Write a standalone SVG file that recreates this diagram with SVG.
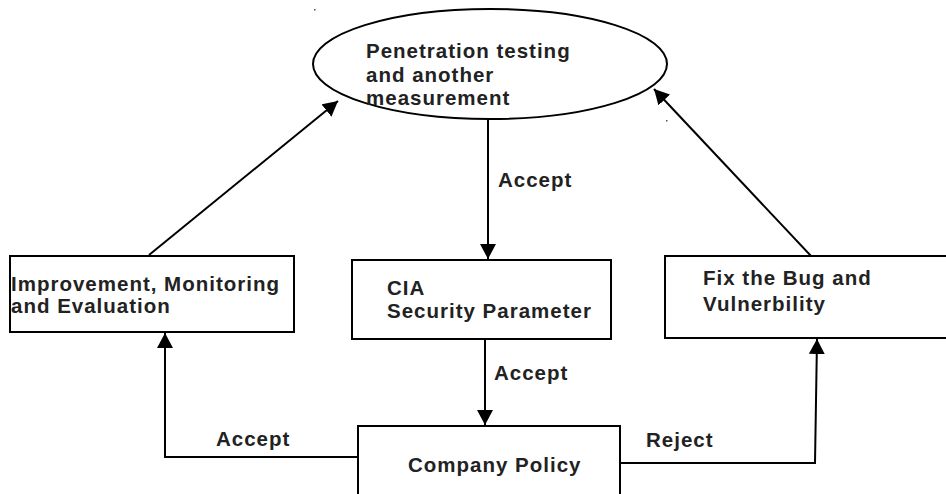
<svg xmlns="http://www.w3.org/2000/svg" width="946" height="494" viewBox="0 0 946 494">
  <style>
    .shape { fill: #ffffff; stroke: #000000; stroke-width: 2; }
    .label { font-family: "Liberation Sans", Arial, sans-serif; font-weight: bold; font-size: 20.5px; letter-spacing: 1px; fill: #222222; }
    .wire { fill: none; stroke: #000000; stroke-width: 2; }
  </style>
  <defs>
    <marker id="arrow" markerUnits="userSpaceOnUse" markerWidth="16" markerHeight="16" viewBox="0 0 16 16" refX="15" refY="8" orient="auto">
      <path d="M0,0 L15,8 L0,16 Z" fill="#000000"/>
    </marker>
  </defs>
  <rect width="946" height="494" fill="#ffffff"/>

  <!-- connectors -->
  <g id="connectors">
    <line class="wire" x1="488" y1="120" x2="488" y2="259" marker-end="url(#arrow)"/>
    <line class="wire" x1="485" y1="339" x2="485" y2="425" marker-end="url(#arrow)"/>
    <polyline class="wire" points="358,457 165,457 165,333" marker-end="url(#arrow)"/>
    <polyline class="wire" points="620,463 815,463 817,339" marker-end="url(#arrow)"/>
    <line class="wire" x1="149" y1="255" x2="338" y2="101" marker-end="url(#arrow)"/>
    <line class="wire" x1="811" y1="256" x2="654" y2="89" marker-end="url(#arrow)"/>
    <text class="label" x="498" y="187">Accept</text>
    <text class="label" x="494" y="380">Accept</text>
    <text class="label" x="216" y="446">Accept</text>
    <text class="label" x="646" y="447">Reject</text>
  </g>

  <!-- top ellipse -->
  <g id="node-pentest">
    <ellipse class="shape" cx="490" cy="64" rx="177" ry="55"/>
    <text class="label" x="366" y="58">Penetration testing</text>
    <text class="label" x="366" y="82">and another</text>
    <text class="label" x="366" y="105">measurement</text>
  </g>

  <g id="node-improvement">
    <rect class="shape" x="10" y="256" width="284" height="76"/>
    <text class="label" x="11" y="291">Improvement, Monitoring</text>
    <text class="label" x="11" y="313">and Evaluation</text>
  </g>

  <g id="node-cia">
    <rect class="shape" x="352" y="260" width="259" height="79"/>
    <text class="label" x="387" y="295">CIA</text>
    <text class="label" x="387" y="318">Security Parameter</text>
  </g>

  <g id="node-fix">
    <rect class="shape" x="665" y="256" width="300" height="82"/>
    <text class="label" x="703" y="285">Fix the Bug and</text>
    <text class="label" x="703" y="311">Vulnerbility</text>
  </g>

  <g id="node-policy">
    <rect class="shape" x="358" y="426" width="262" height="80"/>
    <text class="label" x="408" y="472">Company Policy</text>
  </g>

  <!-- small specks -->
  <rect x="314" y="9" width="1.5" height="1.5" fill="#555555"/>
  <rect x="666" y="120" width="1.5" height="1.5" fill="#555555"/>
</svg>
